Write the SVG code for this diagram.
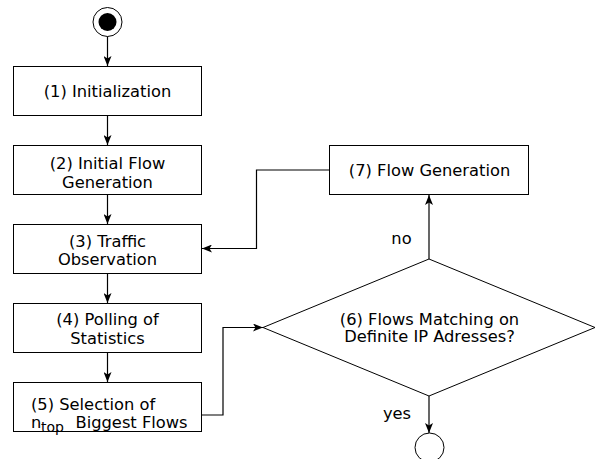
<svg xmlns="http://www.w3.org/2000/svg" width="595" height="459" viewBox="0 0 595 459">
<style>
.box{fill:#fff;stroke:#000;stroke-width:1}
.t{font-family:"DejaVu Sans","Liberation Sans",sans-serif;font-size:16.3px;fill:#000}
.m{text-anchor:middle}
.c{fill:none;stroke:#000;stroke-width:1.2}
</style>
<defs>
<marker id="ah" viewBox="0 0 10 8" refX="10" refY="4" markerWidth="10" markerHeight="8" markerUnits="userSpaceOnUse" orient="auto">
<path d="M0,0 L10,4 L0,8 L2.5,4 z" fill="#000"/>
</marker>
</defs>
<rect width="595" height="459" fill="#fff"/>
<g id="start">
<circle cx="107.5" cy="22" r="14.5" fill="#fff" stroke="#000" stroke-width="1"/>
<circle cx="107.5" cy="22" r="9" fill="#000"/>
</g>
<g id="n1">
<rect class="box" x="13.5" y="66.5" width="188" height="49"/>
<text class="t m" x="107.5" y="97">(1) Initialization</text>
</g>
<g id="n2">
<rect class="box" x="13.5" y="145.5" width="188" height="49"/>
<text class="t m" x="107.5" y="169">(2) Initial Flow</text>
<text class="t m" x="107.5" y="187.5">Generation</text>
</g>
<g id="n3">
<rect class="box" x="13.5" y="224.5" width="188" height="49"/>
<text class="t m" x="107.5" y="246.5">(3) Traffic</text>
<text class="t m" x="107.5" y="265">Observation</text>
</g>
<g id="n4">
<rect class="box" x="13.5" y="303.5" width="188" height="49"/>
<text class="t m" x="107.5" y="325">(4) Polling of</text>
<text class="t m" x="107.5" y="343.5">Statistics</text>
</g>
<g id="n5">
<rect class="box" x="13.5" y="382.5" width="188" height="49"/>
<text class="t" x="31" y="410">(5) Selection of</text>
<text class="t" x="31" y="428">n</text>
<text class="t" x="41" y="431.5" style="font-size:14px">top</text>
<text class="t" x="75.5" y="428">Biggest Flows</text>
</g>
<g id="n6">
<polygon points="429,259 595,327.5 429,396 263,327.5" fill="#fff" stroke="#000" stroke-width="1"/>
<text class="t m" x="429.5" y="324.5">(6) Flows Matching on</text>
<text class="t m" x="429.5" y="342">Definite IP Adresses?</text>
</g>
<g id="n7">
<rect class="box" x="329.5" y="145.5" width="199" height="49"/>
<text class="t m" x="429.5" y="176">(7) Flow Generation</text>
</g>
<g id="end">
<circle cx="429.5" cy="447.5" r="14.5" fill="#fff" stroke="#000" stroke-width="1"/>
</g>
<g id="connectors">
<line class="c" x1="107.5" y1="36.5" x2="107.5" y2="66" marker-end="url(#ah)"/>
<line class="c" x1="107.5" y1="115.5" x2="107.5" y2="145" marker-end="url(#ah)"/>
<line class="c" x1="107.5" y1="194.5" x2="107.5" y2="224" marker-end="url(#ah)"/>
<line class="c" x1="107.5" y1="273.5" x2="107.5" y2="303" marker-end="url(#ah)"/>
<line class="c" x1="107.5" y1="352.5" x2="107.5" y2="382" marker-end="url(#ah)"/>
<polyline class="c" points="201.5,415 223,415 223,327.5 263,327.5" marker-end="url(#ah)"/>
<polyline class="c" points="329.5,170 256.5,170 256.5,248.5 202,248.5" marker-end="url(#ah)"/>
<line class="c" x1="429" y1="259" x2="429" y2="195" marker-end="url(#ah)"/>
<line class="c" x1="429" y1="396" x2="429" y2="433" marker-end="url(#ah)"/>
<text class="t m" x="401.5" y="244">no</text>
<text class="t m" x="397" y="419">yes</text>
</g>
</svg>
